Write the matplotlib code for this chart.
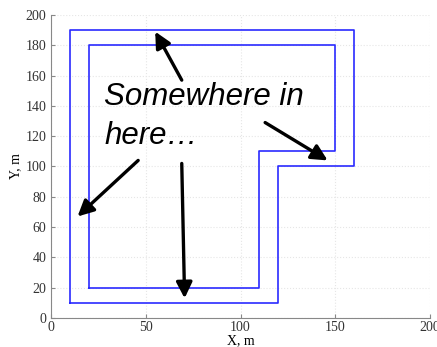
import matplotlib.pyplot as plt

# corridor outline, outer and inner walls (metres)
outer_x = [10, 120, 120, 160, 160, 10, 10]
outer_y = [10, 10, 100, 100, 190, 190, 10]
inner_x = [20, 110, 110, 150, 150, 20, 20]
inner_y = [20, 20, 110, 110, 180, 180, 20]

# arrows: (tail x, tail y, head x, head y)
arrows = [
    (69, 157, 55, 189),
    (113, 129, 146, 104),
    (46, 104, 14, 67),
    (69, 102, 70.5, 13),
]

xticks = [0, 50, 100, 150, 200]
yticks = list(range(0, 201, 20))

fig = plt.figure(figsize=(4.37, 3.47), dpi=100)
ax = fig.add_axes([0.1167, 0.0836, 0.8673, 0.8732])

ax.plot(outer_x, outer_y, color='#2a2aff', lw=1.2)
ax.plot(inner_x, inner_y, color='#2a2aff', lw=1.2)

for x0, y0, x1, y1 in arrows:
    ax.annotate('', xy=(x1, y1), xytext=(x0, y0),
                arrowprops=dict(arrowstyle='-|>', color='black', lw=2.4,
                                mutation_scale=24, shrinkA=0, shrinkB=0))

txt = dict(fontsize=22.5, style='italic', family='Liberation Sans',
           va='baseline', ha='left')
ax.text(28, 140.5, 'Somewhere in', **txt)
ax.text(28, 115, 'here…', **txt)

ax.set_xlim(0, 200)
ax.set_ylim(0, 200)
ax.set_xticks(xticks)
ax.set_yticks(yticks)

ax.grid(True, color='#e6e6e6', linestyle=':', lw=0.8)
for side in ['top', 'right']:
    ax.spines[side].set_visible(False)
for side in ['left', 'bottom']:
    ax.spines[side].set_color('#888888')
ax.tick_params(direction='in', length=3, color='#888888', labelsize=10,
               labelcolor='#333333')
ax.tick_params(axis='x', pad=2)
for lab in ax.get_xticklabels() + ax.get_yticklabels():
    lab.set_family('Liberation Serif')

ax.set_xlabel('X, m', family='Liberation Serif', fontsize=10, va='top')
ax.xaxis.set_label_coords(0.5, -0.053)
ax.set_ylabel('Y, m', family='Liberation Serif', fontsize=10, labelpad=2)

plt.savefig('out.png', dpi=100)
